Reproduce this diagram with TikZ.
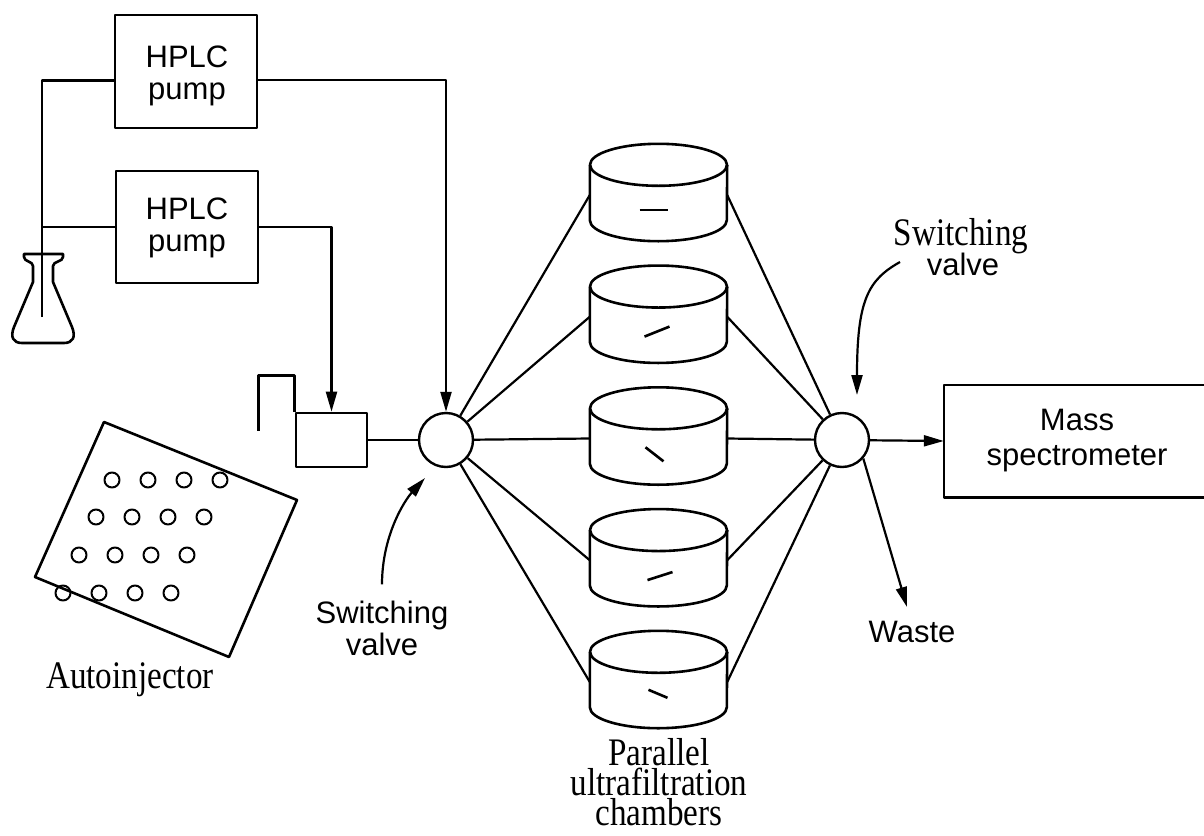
\documentclass[tikz,border=0pt]{standalone}
\usepackage{fontspec}
\newfontfamily\sansf{Liberation Sans}
\newfontfamily\seriff{Liberation Serif}
\usetikzlibrary{arrows.meta,calc}

\begin{document}
\begin{tikzpicture}[x=1pt,y=-1pt,
  line join=round,
  outline/.style={line width=2.6pt},
  box/.style={draw, line width=2.4pt, inner sep=0pt, minimum width=142pt, minimum height=113pt},
  pipe/.style={line width=2.2pt},
  flow/.style={pipe, -{Triangle[length=20pt,width=11pt]}},
  valve/.style={draw, circle, line width=2.4pt, minimum size=54pt, inner sep=0pt},
  sanslbl/.style={font=\sansf\fontsize{31}{32}\selectfont, align=center, inner sep=0pt},
  serlbl/.style={font=\seriff\fontsize{39}{30}\selectfont, align=center, inner sep=0pt, xscale=0.85},
  chamber/.style={inner sep=0pt, minimum width=137pt, minimum height=50pt},
  ]
\useasboundingbox (0,0) rectangle (1204,835);

% ---- pumps
\node[box] (p1) at (186,71.5) {};
\node[sanslbl] (p1t) at (187,76) {HPLC\\pump};
\node[box, minimum height=112pt] (p2) at (187,227) {};
\node[sanslbl] (p2t) at (187,228) {HPLC\\pump};

% ---- solvent flask with dip tube
\draw[outline] (33,282) -- (33,266) .. controls (33,261) and (24,262) .. (24,257) -- (24,254)
  -- (63,254) -- (63,257) .. controls (63,262) and (53,261) .. (53,266) -- (53,282)
  -- (72,327) .. controls (76,337) and (73,343) .. (64,343) -- (22,343)
  .. controls (13,343) and (10,337) .. (14,327) -- cycle;
\coordinate (tube) at (42,317);
\draw[pipe] (tube) |- ($(p1.west)+(0,9)$);
\draw[pipe] (p2.west) -- (p2.west -| tube);

% ---- injector
\node[draw, outline, inner sep=0pt, minimum width=71pt, minimum height=54pt] (inj) at (331.5,440) {};
\draw[outline] (inj.north west) -- ++(0,-36) -- ++(-36,0) -- ++(0,55);

% ---- switching valves
\node[valve] (v1) at (446,440) {};
\node[valve] (v2) at (842,440) {};

\draw[flow] ($(p1.east)+(0,8.5)$) -| (v1.north);
\draw[flow] (p2.east) -| (inj.north);
\draw[pipe] (inj.east) -- (v1.west);

% ---- parallel ultrafiltration chambers
\foreach \i/\ax/\ay/\bx/\by in {1/-19/45/9/45, 2/-14/50/11/40, 3/-13/39/5/53, 4/-11/50/14/42, 5/-10/38/9/46}{
  \pgfmathsetmacro\yc{165+121.75*(\i-1)}
  \node[chamber] (c\i) at (658.5,\yc+30) {};
  \draw[outline] ($(c\i.north west)+(0,-5)$) -- (c\i.south west)
    arc[start angle=180, end angle=360, x radius=68.5pt, y radius=21pt]
    -- ($(c\i.north east)+(0,-5)$);
  \draw[outline] ($(c\i.north)+(0,-5)$) ellipse [x radius=68.5pt, y radius=21pt];
  \draw[outline] ($(c\i.north)+(\ax,\ay-5)$) -- ($(c\i.north)+(\bx,\by-5)$);
  \draw[pipe] (v1) -- (c\i.west);
  \draw[pipe] (c\i.east) -- (v2);
}

% ---- mass spectrometer and waste
\node[inner sep=0pt, minimum width=266pt, minimum height=112pt,
      font=\sansf\fontsize{31}{35}\selectfont, align=center] (ms) at (1077,441) {Mass\\spectrometer};
\draw[outline] (ms.north east) -- (ms.north west) -- (ms.south west) -- (ms.south east);
\draw[flow] (v2) -- (ms.west);
\coordinate (waste) at (907,607);
\draw[flow] (v2.-41) -- (waste);
\node[sanslbl, anchor=base] (wastet) at (912,642) {Waste};

% ---- autoinjector tray
\draw[outline] (104,422) -- (297,500) -- (229,657) -- (35,577) -- cycle;
\foreach \y/\x in {480/112, 517/96, 555/79, 593/63}{
  \foreach \k in {0,1,2,3}{
    \draw[line width=2pt] (\x+36*\k,\y) circle [radius=7.5pt];
  }
}
\node[serlbl, anchor=base] (autot) at (130,688) {Autoinjector};

% ---- labels with pointers
\node[sanslbl] (sv1) at (382,628) {Switching\\valve};
\draw[flow] ($(sv1.north)+(0,-16)$) .. controls (382,535) and (405,500) .. (425,478);

\node[serlbl, anchor=base] (sv2a) at (961,245) {Switching};
\node[sanslbl, anchor=base] (sv2b) at (963,275) {valve};
\draw[flow] (900,262) .. controls (868,280) and (857,300) .. (857,395);

\node[serlbl] (chl) at (659,782) {Parallel\\ultrafiltration\\chambers};
\end{tikzpicture}
\end{document}
